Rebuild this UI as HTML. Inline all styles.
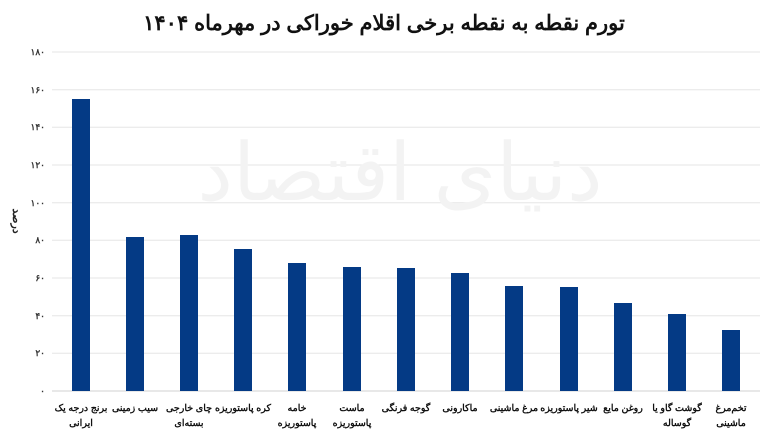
<!DOCTYPE html>
<html><head><meta charset="utf-8"><style>
body{margin:0;background:#fff;}
svg{display:block;font-family:"Liberation Sans","Noto Sans CJK SC",sans-serif;}
</style></head><body>
<svg width="768" height="433" xmlns="http://www.w3.org/2000/svg">
<rect width="768" height="433" fill="#fff"/>
<text x="384" y="30" text-anchor="middle" font-size="21" font-weight="bold" fill="#111" direction="rtl">تورم نقطه به نقطه برخی اقلام خوراکی در مهرماه ۱۴۰۴</text>
<g stroke="#e6e6e6" stroke-width="1">
<line x1="52" x2="760" y1="52" y2="52"/><line x1="52" x2="760" y1="89.7" y2="89.7"/><line x1="52" x2="760" y1="127.3" y2="127.3"/><line x1="52" x2="760" y1="165" y2="165"/><line x1="52" x2="760" y1="202.7" y2="202.7"/><line x1="52" x2="760" y1="240.3" y2="240.3"/><line x1="52" x2="760" y1="278" y2="278"/><line x1="52" x2="760" y1="315.7" y2="315.7"/><line x1="52" x2="760" y1="353.3" y2="353.3"/><line x1="52" x2="760" y1="391" y2="391" stroke="#d0d0d0"/>
</g>
<g font-size="9" font-weight="bold" fill="#333" text-anchor="end">
<text x="45" y="55">۱۸۰</text><text x="45" y="93">۱۶۰</text><text x="45" y="130">۱۴۰</text><text x="45" y="168">۱۲۰</text><text x="45" y="206">۱۰۰</text><text x="45" y="243">۸۰</text><text x="45" y="281">۶۰</text><text x="45" y="319">۴۰</text><text x="45" y="356">۲۰</text><text x="45" y="394">۰</text>
</g>
<text transform="translate(13,221) rotate(90)" text-anchor="middle" font-size="11" font-weight="bold" fill="#222" direction="rtl">درصد</text>
<text x="400" y="200" text-anchor="middle" font-size="80" fill="#f3f3f3" direction="rtl">دنیای اقتصاد</text>
<g fill="#043a85">
<rect x="72" y="99" width="18" height="292"/>
<rect x="126" y="237" width="18" height="154"/>
<rect x="180" y="235" width="18" height="156"/>
<rect x="234" y="249" width="18" height="142"/>
<rect x="288" y="263" width="18" height="128"/>
<rect x="343" y="267" width="18" height="124"/>
<rect x="397" y="268" width="18" height="123"/>
<rect x="451" y="273" width="18" height="118"/>
<rect x="505" y="286" width="18" height="105"/>
<rect x="560" y="287" width="18" height="104"/>
<rect x="614" y="303" width="18" height="88"/>
<rect x="668" y="314" width="18" height="77"/>
<rect x="722" y="330" width="18" height="61"/>
</g>
<g font-size="9.5" font-weight="bold" fill="#111" text-anchor="middle" direction="rtl">
<text x="81" y="411">برنج درجه یک</text><text x="81" y="426">ایرانی</text>
<text x="135" y="411">سیب زمینی</text>
<text x="189" y="411">چای خارجی</text><text x="189" y="426">بسته‌ای</text>
<text x="243" y="411">کره پاستوریزه</text>
<text x="297" y="411">خامه</text><text x="297" y="426">پاستوریزه</text>
<text x="352" y="411">ماست</text><text x="352" y="426">پاستوریزه</text>
<text x="406" y="411">گوجه فرنگی</text>
<text x="460" y="411">ماکارونی</text>
<text x="514" y="411">مرغ ماشینی</text>
<text x="569" y="411">شیر پاستوریزه</text>
<text x="623" y="411">روغن مایع</text>
<text x="677" y="411">گوشت گاو یا</text><text x="677" y="426">گوساله</text>
<text x="731" y="411">تخم‌مرغ</text><text x="731" y="426">ماشینی</text>
</g>
</svg>
</body></html>
